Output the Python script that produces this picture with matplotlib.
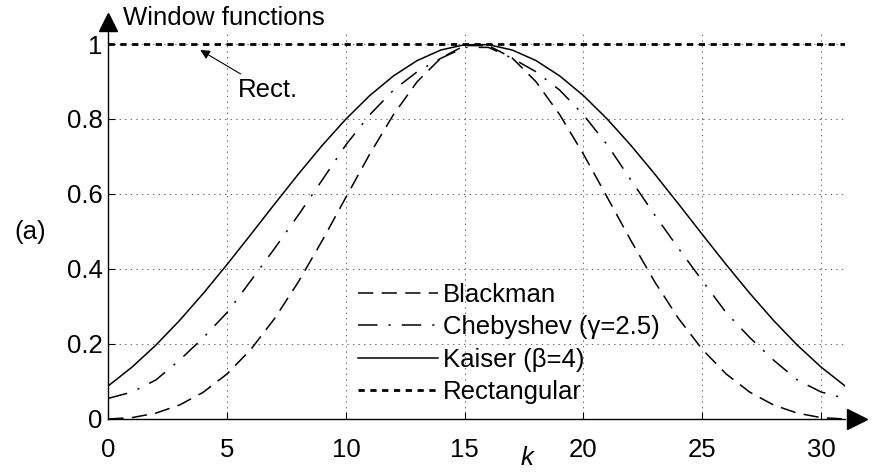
import matplotlib
matplotlib.use("Agg")
import matplotlib.pyplot as plt

plt.rcParams['font.family'] = ['Liberation Sans', 'DejaVu Sans']
plt.rcParams['lines.scale_dashes'] = False

k = list(range(32))

blackman = [0.0, 0.0037, 0.0156, 0.0374, 0.0715, 0.1203, 0.1857, 0.2680,
            0.3657, 0.4754, 0.5912, 0.7060, 0.8115, 0.8995, 0.9627, 0.9958,
            0.9958, 0.9627, 0.8995, 0.8115, 0.7060, 0.5912, 0.4754, 0.3657,
            0.2680, 0.1857, 0.1203, 0.0715, 0.0374, 0.0156, 0.0037, 0.0]
chebyshev = [0.055, 0.072, 0.104, 0.157, 0.217, 0.284, 0.369, 0.455,
             0.544, 0.637, 0.731, 0.811, 0.877, 0.926, 0.962, 0.991,
             0.991, 0.962, 0.926, 0.877, 0.811, 0.731, 0.637, 0.544,
             0.455, 0.369, 0.284, 0.217, 0.157, 0.104, 0.072, 0.055]
kaiser = [0.0885, 0.1385, 0.1969, 0.2628, 0.3351, 0.4122, 0.4923, 0.5734,
          0.6531, 0.7294, 0.7998, 0.8623, 0.9148, 0.9559, 0.9840, 0.9982,
          0.9982, 0.9840, 0.9559, 0.9148, 0.8623, 0.7998, 0.7294, 0.6531,
          0.5734, 0.4923, 0.4122, 0.3351, 0.2628, 0.1969, 0.1385, 0.0885]
rect = [1.0] * 32

labels = ["Blackman", "Chebyshev (\u03b3=2.5)", "Kaiser (\u03b2=4)", "Rectangular"]
xticks = [0, 5, 10, 15, 20, 25, 30]
yticks = [0, 0.2, 0.4, 0.6, 0.8, 1]
ytick_labels = ["0", "0.2", "0.4", "0.6", "0.8", "1"]

fs = 18.5

fig = plt.figure(figsize=(8.85, 4.72), dpi=100)
ax = fig.add_axes([0.1224, 0.1123, 0.8322, 0.8199])

ax.plot(k, blackman, color='black', lw=1.1, dashes=(11, 6), label=labels[0])
ax.plot(k, chebyshev, color='black', lw=1.1, dashes=(14, 8, 1.5, 8), label=labels[1])
ax.plot(k, kaiser, color='black', lw=1.1, label=labels[2])
ax.plot(k, rect, color='black', lw=2.0, dashes=(4.5, 4), label=labels[3])

ax.set_xlim(0, 31)
ax.set_ylim(0, 1.032)
ax.set_xticks(xticks)
ax.set_yticks(yticks)
ax.set_yticklabels(ytick_labels)
ax.tick_params(direction='in', length=5, width=0.8, labelsize=fs)
ax.tick_params(axis='x', pad=13.5)
ax.tick_params(axis='y', pad=4)
ax.grid(True, color='0.4', linestyle=(0, (1, 3)), lw=0.7)

for side in ['top', 'right']:
    ax.spines[side].set_visible(False)
for side in ['left', 'bottom']:
    ax.spines[side].set_linewidth(1.0)

# axis arrows
ax.plot(0, 1.026, marker='^', color='black', ms=13, transform=ax.transAxes, clip_on=False)
ax.plot(1.016, 0, marker='>', color='black', ms=14, transform=ax.transAxes, clip_on=False)

leg = ax.legend(loc='upper left', bbox_to_anchor=(0.339, 0.352), frameon=False,
                fontsize=fs, handlelength=3.1, handletextpad=0.22, labelspacing=0.33,
                borderpad=0, borderaxespad=0)

ax.annotate("Rect.", xy=(3.87, 0.984), xytext=(5.45, 0.877), fontsize=fs, va='center',
            arrowprops=dict(arrowstyle='-|>', color='black', lw=0.8, mutation_scale=14,
                            shrinkA=2, shrinkB=0))

fig.text(123 / 885, 1 - 18 / 472, "Window functions", fontsize=fs, va='center', ha='left')
fig.text(14 / 885, 1 - 232 / 472, "(a)", fontsize=fs, va='center', ha='left')
fig.text(527 / 885, 1 - 470 / 472, "k", fontsize=fs, style='italic', va='bottom', ha='center')

fig.savefig("out.png", dpi=100)
